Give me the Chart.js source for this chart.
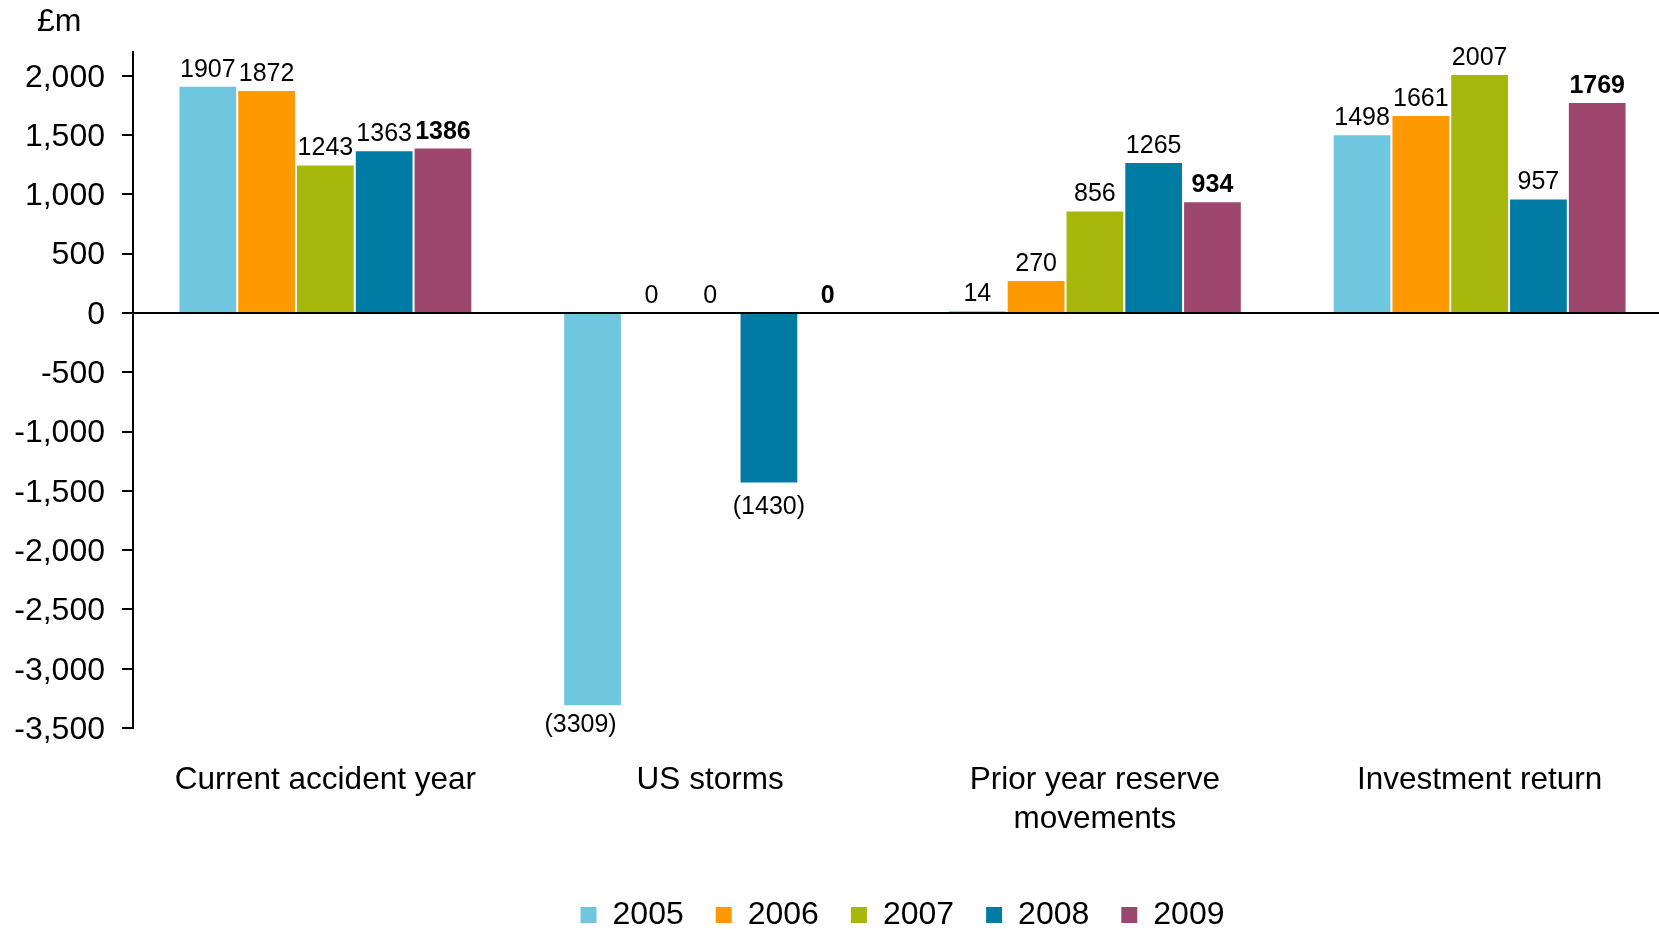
<!DOCTYPE html>
<html>
<head>
<meta charset="utf-8">
<title>Underwriting and investment, £m</title>
<script src="https://cdn.jsdelivr.net/npm/chart.js@4"></script>
<style>
    html, body { margin: 0; padding: 0; background: #fff; overflow: hidden; }
    #wrap { width: 1672px; height: 941px; }
</style>
</head>
<body>
<div id="wrap"><canvas id="resultsChart" width="1672" height="941"></canvas></div>
<script>
// values by category, one array per year
const categories = ['Current accident year', 'US storms', ['Prior year reserve', 'movements'], 'Investment return'];
const years = ['2005', '2006', '2007', '2008', '2009'];
const values2005 = [1907, -3309, 14, 1498];
const values2006 = [1872, 0, 270, 1661];
const values2007 = [1243, 0, 856, 2007];
const values2008 = [1363, -1430, 1265, 957];
const values2009 = [1386, 0, 934, 1769];
const yTicks = [-3500, -3000, -2500, -2000, -1500, -1000, -500, 0, 500, 1000, 1500, 2000];

const seriesValues = [values2005, values2006, values2007, values2008, values2009];
const seriesColors = ['#6FC7DF', '#FF9900', '#A8B70C', '#007CA4', '#9E476E'];

const FONT = "'Liberation Sans', Arial, Helvetica, sans-serif";

// numbers on top of / under each bar, 2009 in bold
const barLabels = {
    id: 'barLabels',
    afterDatasetsDraw(chart) {
        const ctx = chart.ctx;
        const bottom = chart.chartArea.bottom;
        ctx.save();
        ctx.fillStyle = '#000';
        ctx.textAlign = 'center';
        chart.data.datasets.forEach((ds, di) => {
            const meta = chart.getDatasetMeta(di);
            ctx.font = (di === 4 ? 'bold ' : '') + '25px ' + FONT;
            meta.data.forEach((bar, i) => {
                const v = ds.data[i];
                if (v < 0) {
                    // keep labels of long negative bars near the plot bottom
                    let y = bar.y + 12;
                    let x = bar.x;
                    if (y > bottom - 15) {
                        y = bottom - 15;
                        x -= 12;
                    }
                    ctx.textBaseline = 'top';
                    ctx.fillText('(' + (-v) + ')', x, y);
                } else {
                    ctx.textBaseline = 'alphabetic';
                    ctx.fillText(String(v), bar.x, bar.y - 10);
                }
            });
        });
        ctx.restore();
    }
};

// unit caption above the y axis
const unitCaption = {
    id: 'unitCaption',
    afterDraw(chart) {
        const ctx = chart.ctx;
        ctx.save();
        ctx.fillStyle = '#000';
        ctx.font = '32px ' + FONT;
        ctx.textAlign = 'left';
        ctx.textBaseline = 'alphabetic';
        ctx.fillText('£m', 37, 31);
        ctx.restore();
    }
};

new Chart(document.getElementById('resultsChart').getContext('2d'), {
    type: 'bar',
    data: {
        labels: categories,
        datasets: years.map((y, i) => ({
            label: y,
            data: seriesValues[i],
            backgroundColor: seriesColors[i],
            borderWidth: 0,
            categoryPercentage: 0.764,
            barPercentage: 0.965
        }))
    },
    options: {
        responsive: false,
        animation: false,
        layout: { padding: { top: 52, left: 0, right: 0, bottom: 0 } },
        plugins: {
            tooltip: { enabled: false },
            legend: {
                position: 'bottom',
                fullSize: false,
                labels: {
                    boxWidth: 16,
                    boxHeight: 16,
                    padding: 32,
                    color: '#000',
                    font: { family: FONT, size: 32 }
                }
            }
        },
        scales: {
            x: {
                grid: { display: false, drawTicks: false },
                border: { display: false },
                ticks: {
                    color: '#000',
                    padding: 33,
                    maxRotation: 0,
                    autoSkip: false,
                    font: { family: FONT, size: 31.5, lineHeight: 1.24 }
                },
                afterFit(scale) { scale.height = 139; }
            },
            y: {
                min: -3500,
                max: 2200,
                afterBuildTicks(scale) {
                    scale.ticks = yTicks.map(v => ({ value: v }));
                },
                afterFit(scale) { scale.width = 133; },
                grid: {
                    drawOnChartArea: true,
                    color: c => (c.tick && c.tick.value === 0 ? '#000' : 'rgba(0,0,0,0)'),
                    tickColor: '#000',
                    lineWidth: 2,
                    tickLength: 11
                },
                border: { display: true, color: '#000', width: 2 },
                ticks: {
                    color: '#000',
                    padding: 17,
                    labelOffset: 2,
                    font: { family: FONT, size: 32 },
                    callback: v => v.toLocaleString('en-GB')
                }
            }
        }
    },
    plugins: [barLabels, unitCaption]
});
</script>
</body>
</html>
